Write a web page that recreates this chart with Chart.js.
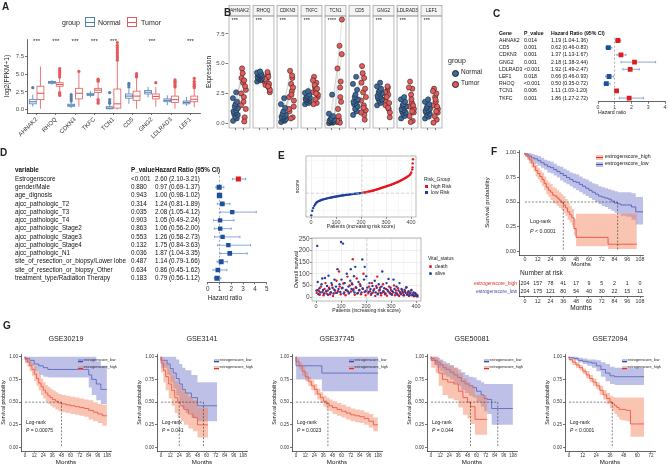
<!DOCTYPE html>
<html><head><meta charset="utf-8">
<script src="https://cdn.jsdelivr.net/npm/chart.js@4.4.1/dist/chart.umd.min.js"></script>
<style>
body{margin:0;background:#fff;}
#fig{position:relative;width:669px;height:467px;overflow:hidden;font-family:'Liberation Sans',Arial,sans-serif;color:#222;}
#fig canvas{position:absolute;}
.t{position:absolute;white-space:nowrap;line-height:1;}
.sw{position:absolute;}
</style></head><body><div id="fig"></div>
<script>
// ---------- A: expression boxplots ----------
const genes = ['AHNAK2','RHOQ','CDKN3','TKFC','TCN1','CD5','GNG2','LDLRAD3','LEF1'];
// [lower whisker, q1, median, q3, upper whisker]
const normalBox = [[0.4,0.8,1.1,1.4,2.1],[3.5,3.72,3.85,3.98,4.2],[0.2,0.45,0.6,0.75,1.1],[1.75,2.0,2.15,2.3,2.6],[0.0,0.1,0.2,0.4,0.8],[0.8,1.6,1.9,2.2,3.0],[1.7,2.2,2.45,2.7,3.2],[0.6,1.1,1.3,1.5,2.0],[0.5,0.8,1.0,1.2,1.8]];
const tumorBox = [[0.1,1.4,2.3,3.3,6.1],[2.6,3.3,3.55,3.8,4.5],[0.4,1.5,2.3,3.0,5.2],[1.6,2.4,2.75,3.0,3.8],[0.0,0.2,0.8,2.9,6.8],[0.1,1.3,1.9,2.6,4.4],[0.4,1.5,1.85,2.2,3.2],[0.1,1.0,1.4,1.9,3.1],[0.3,1.1,1.45,1.9,3.0]];
// [gene index, value]
const normalOutliers = [[0,3.1],[2,1.2],[2,1.5],[2,1.8],[2,2.1],[4,0.9],[4,1.1],[4,1.4],[4,2.4],[5,3.2],[5,3.5],[5,3.7]];
const tumorOutliers = [[1,2.0],[1,2.2],[1,2.4],[1,4.6],[1,4.9],[1,5.2],[1,5.5],[1,5.8],[2,5.4],[3,0.9],[3,1.2],[3,1.4],[3,4.0],[3,4.2],[3,4.3],[4,7.0],[4,7.3],[4,7.6],[4,7.9],[4,8.2],[4,8.5],[4,8.8],[4,9.1],[4,9.5],[5,4.6],[5,4.8],[5,5.1],[6,3.8],[7,3.2],[7,3.4],[7,3.6],[7,3.8],[7,4.0],[7,4.2],[8,3.1],[8,3.3],[8,3.5],[8,3.7],[8,4.0],[8,4.4]];
const boxStars = ['***','***','***','***','***','','***','','***'];

// ---------- B: paired samples ----------
const pairedNormal = [
  [0.2,0.4,0.55,0.7,0.8,0.9,1.0,1.1,1.25,1.4,1.6,1.8,2.1,2.6],
  [3.5,3.6,3.7,3.75,3.8,3.85,3.9,3.95,4.0,4.05,4.1,4.15,4.25,4.35],
  [0.1,0.2,0.3,0.35,0.4,0.5,0.55,0.6,0.7,0.8,1.0,1.3,1.6,2.1],
  [1.6,1.7,1.8,1.9,1.95,2.0,2.05,2.1,2.15,2.2,2.3,2.4,2.55,2.7],
  [0.0,0.05,0.1,0.12,0.15,0.2,0.22,0.25,0.3,0.35,0.45,0.6,0.8,2.4],
  [0.7,1.0,1.2,1.4,1.6,1.7,1.8,1.9,2.0,2.2,2.4,2.8,3.3,3.9],
  [1.5,1.7,1.9,2.0,2.1,2.2,2.3,2.4,2.5,2.6,2.75,2.9,3.1,3.4],
  [0.4,0.6,0.8,0.9,1.0,1.1,1.2,1.3,1.4,1.5,1.6,1.8,2.0,2.2],
  [0.4,0.55,0.7,0.8,0.9,1.0,1.05,1.1,1.2,1.3,1.45,1.6,1.8,2.0]];
const pairedTumor = [
  [2.5,0.5,3.4,1.2,4.6,2.2,3.8,0.15,2.8,4.2,1.8,3.1,1.5,3.6],
  [3.4,3.0,3.8,2.6,3.6,4.1,3.2,3.9,2.8,3.5,4.3,3.3,3.7,3.1],
  [2.2,0.5,3.3,1.4,4.4,2.7,1.0,3.8,1.9,0.4,2.4,3.0,1.2,4.0],
  [2.6,1.7,3.0,2.2,3.9,2.8,1.6,3.4,2.4,3.2,2.0,2.9,3.6,2.5],
  [0.1,3.5,0.3,5.8,1.2,0.05,4.6,2.2,8.7,0.6,6.5,1.8,0.2,3.0],
  [1.9,0.3,2.6,1.1,4.8,1.5,3.4,0.7,2.2,4.2,1.3,2.9,0.9,3.8],
  [2.0,1.2,2.7,0.5,1.8,3.0,1.5,2.4,0.9,2.2,3.1,1.7,2.6,1.3],
  [1.4,0.2,2.4,0.9,3.5,1.7,0.6,2.9,1.2,0.1,2.0,1.5,3.0,1.0],
  [1.5,0.3,2.2,0.9,2.9,1.8,0.05,2.5,1.2,0.6,2.0,1.4,2.7,1.0]];
const pairStars = ['***','***','***','***','****','','***','***','***'];

// ---------- C: univariate cox ----------
const uniGenes = ['AHNAK2','CD5','CDKN3','GNG2','LDLRAD3','LEF1','RHOQ','TCN1','TKFC'];
const uniP = ['0.014','0.001','0.001','0.001','<0.001','0.018','<0.001','0.006','0.001'];
const uniHR = [1.19,0.62,1.37,2.18,1.92,0.66,0.50,1.11,1.86];
const uniLo = [1.04,0.46,1.13,1.38,1.49,0.46,0.35,1.03,1.27];
const uniHi = [1.36,0.83,1.67,3.44,2.47,0.93,0.72,1.20,2.72];

// ---------- D: multivariate cox ----------
const multiVars = ['Estrogenscore','gender/Male','age_dignosis','ajcc_pathologic_T2','ajcc_pathologic_T3','ajcc_pathologic_T4','ajcc_pathologic_Stage2','ajcc_pathologic_Stage3','ajcc_pathologic_Stage4','ajcc_pathologic_N1','site_of_resection_or_biopsy/Lower lobe','site_of_resection_or_biopsy_Other','treatment_type/Radiation Therapy'];
const multiP = ['<0.001','0.880','0.943','0.314','0.035','0.903','0.863','0.553','0.132','0.036','0.487','0.634','0.183'];
const multiHR = [2.60,0.97,1.00,1.24,2.08,1.05,1.06,1.26,1.75,1.87,1.14,0.86,0.79];
const multiLo = [2.10,0.69,0.98,0.81,1.05,0.49,0.56,0.58,0.84,1.04,0.79,0.45,0.56];
const multiHi = [3.21,1.37,1.02,1.89,4.12,2.24,2.00,2.73,3.63,3.35,1.66,1.62,1.12];
const multiSize = [3.6,3.6,3.8,3.3,3.1,3.1,3.1,3.1,3.1,3.3,3.5,3.3,3.6];

// ---------- E: risk score and survival status ----------
const riskCut = 204, scoreCut = 1.1;
// risk score at patient ranks 1, 5, 9, ... 405
const riskScore = [-1.60,-1.05,-0.70,-0.45,-0.25,-0.08,0.02,0.10,0.16,0.21,0.26,0.30,0.34,0.37,0.40,0.43,0.46,0.49,0.52,0.55,0.57,0.60,0.62,0.64,0.67,0.69,0.71,0.73,0.75,0.77,0.79,0.81,0.83,0.85,0.86,0.88,0.90,0.92,0.93,0.95,0.97,0.98,1.00,1.01,1.03,1.04,1.06,1.07,1.08,1.10,1.11,1.13,1.15,1.17,1.19,1.21,1.24,1.27,1.30,1.33,1.36,1.39,1.42,1.45,1.49,1.52,1.56,1.60,1.64,1.68,1.72,1.76,1.80,1.84,1.88,1.92,1.96,2.00,2.04,2.08,2.12,2.17,2.22,2.27,2.32,2.37,2.42,2.48,2.54,2.60,2.66,2.72,2.79,2.86,2.93,3.00,3.08,3.16,3.25,3.38,3.60,3.95];
const riskTopRank = [406,407,408];
const riskTopScore = [4.2,4.7,5.2];
const deathRank = [3,8,12,15,20,26,30,34,38,42,47,52,56,60,64,68,72,78,82,88,92,95,99,104,109,113,118,122,126,131,135,140,143,147,150,155,159,163,168,172,176,180,186,190,194,199,203,208,212,216,220,224,229,233,237,241,245,248,252,256,260,264,268,272,276,280,284,288,292,296,300,304,308,312,316,320,324,328,332,336,340,344,348,352,356,360,364,368,372,376,380,384,388,392,396,400,403,406];
const deathTime = [18,30,25,10,45,22,8,35,60,15,28,40,12,20,52,5,33,18,70,25,110,45,12,38,58,20,8,30,88,15,50,24,60,163,35,10,42,80,18,28,55,12,38,100,22,8,30,16,45,25,10,60,20,35,5,48,88,15,28,40,8,18,55,22,12,35,6,25,45,15,30,10,20,50,8,28,15,38,5,22,12,30,18,8,25,40,10,20,5,15,28,8,12,3,18,6,10,2];
const aliveRank = [2,5,7,10,14,18,22,25,28,32,36,40,44,48,50,54,58,62,66,70,74,76,80,84,86,90,94,97,100,102,106,108,111,115,119,123,127,130,133,137,139,142,145,149,152,154,157,161,165,170,174,178,182,185,188,192,195,198,201,205,210,214,218,222,226,230,235,239,243,247,251,255,258,262,265,269,273,278,282,286,290,294,298,302,306,310,314,318,322,326,330,334,338,342,346,350,354,358,362,366,370,374,378,382,386,390,394,398,402,405];
const aliveTime = [28,220,65,12,38,20,55,80,30,15,82,25,48,10,92,35,20,60,40,15,75,28,45,18,120,35,55,22,237,75,40,230,15,60,30,100,25,45,18,70,120,35,55,28,90,20,130,40,15,65,30,48,20,162,35,75,130,25,90,40,22,60,35,15,48,28,70,20,40,12,55,30,18,45,110,25,38,15,60,30,78,20,40,12,25,75,35,18,45,10,28,60,15,35,22,8,30,18,42,12,25,8,18,30,10,20,6,14,4,8];

// ---------- F: TCGA survival ----------
const fHighT = [0,2,4,6,8,10,12,14,16,18,20,22,24,26,28,30,32,34,36,38,40,42,44,46,48,78,85,105];
const fHighS = [1,.98,.96,.93,.90,.86,.82,.79,.76,.73,.69,.65,.62,.60,.57,.56,.54,.52,.50,.47,.44,.40,.37,.34,.23,.14,.07,.07];
const fHighU = [1,1,.99,.97,.95,.91,.88,.85,.82,.80,.76,.72,.70,.68,.65,.64,.62,.60,.58,.56,.53,.49,.46,.43,.33,.38,.38,.38];
const fHighL = [1,.96,.93,.89,.85,.81,.76,.73,.70,.66,.62,.58,.55,.52,.49,.48,.46,.44,.42,.39,.36,.32,.29,.26,.16,.05,.02,.02];
const fLowT = [0,3,6,9,12,15,18,21,24,27,30,33,36,39,42,45,48,51,54,57,60,63,66,69,72,75,78,81,84,87,90,95,100,104,106,111];
const fLowS = [1,.99,.97,.95,.94,.92,.90,.88,.86,.85,.83,.81,.79,.77,.75,.73,.71,.70,.68,.66,.64,.62,.60,.58,.56,.55,.54,.53,.51,.49,.48,.47,.47,.45,.40,.40];
const fLowU = [1,1,1,.99,.98,.97,.95,.93,.92,.91,.89,.87,.86,.84,.82,.80,.79,.78,.76,.74,.73,.71,.69,.68,.66,.65,.64,.63,.62,.61,.60,.60,.60,.59,.55,.55];
const fLowL = [1,.97,.94,.91,.89,.87,.85,.83,.80,.79,.77,.75,.72,.70,.68,.66,.64,.62,.60,.58,.56,.54,.52,.50,.48,.46,.45,.43,.41,.39,.38,.36,.35,.32,.27,.27];
const fMedian = [36, 87];
const riskTimes = [0,12,24,36,48,60,72,84,96,108];
const atRiskHigh = [204,157,78,41,17,9,5,2,1,0];
const atRiskLow = [204,175,121,80,54,40,30,22,15,11];

// ---------- G: validation cohorts ----------
const gStudies = ['GSE30219','GSE3141','GSE37745','GSE50081','GSE72094'];
const gP = ['<i>P</i> = 0.00075','<i>P</i> = 0.041','<i>P</i> = 0.0023','<i>P</i> = 0.044','<i>P</i> &lt; 0.0001'];
const gXMax = [108,108,108,108,72];
const gMedian = [[48],[24,56],[42],[52,88],[38]];
const g1LowT = [0,6,12,18,24,30,36,84,88,94,100,104,108];
const g1LowS = [1,.98,.96,.92,.90,.88,.86,.86,.80,.75,.70,.64,.64];
const g1LowU = [1,1,1,1,1,1,1,1,1,1,.95,.90,.90];
const g1LowL = [1,.94,.90,.84,.80,.78,.77,.77,.66,.58,.52,.48,.48];
const g1HighT = [0,3,6,9,12,15,18,21,24,27,30,33,36,40,44,48,54,60,66,72,78,84,90,96,102,108];
const g1HighS = [1,.97,.94,.90,.86,.81,.76,.71,.67,.63,.60,.57,.55,.53,.51,.49,.48,.47,.46,.45,.44,.43,.41,.39,.37,.35];
const g1HighU = [1,1,.99,.96,.93,.89,.84,.80,.76,.72,.69,.67,.65,.63,.61,.59,.58,.57,.56,.55,.54,.53,.52,.50,.48,.47];
const g1HighL = [1,.93,.89,.84,.79,.73,.68,.63,.58,.54,.51,.48,.46,.44,.42,.40,.39,.38,.37,.36,.35,.34,.31,.29,.27,.24];
const g2LowT = [0,8,12,16,20,24,28,32,40,48,56,74];
const g2LowS = [1,.96,.92,.87,.82,.76,.70,.64,.60,.55,.46,.46];
const g2LowU = [1,1,1,1,1,.97,.92,.88,.85,.80,.72,.72];
const g2LowL = [1,.88,.80,.72,.65,.57,.50,.43,.38,.33,.29,.29];
const g2HighT = [0,3,6,10,14,18,22,26,30,36,42,48,56,62];
const g2HighS = [1,.93,.85,.78,.70,.63,.55,.50,.46,.42,.37,.33,.25,.25];
const g2HighU = [1,1,.97,.92,.86,.80,.73,.69,.65,.61,.56,.52,.44,.44];
const g2HighL = [1,.83,.72,.63,.54,.46,.38,.33,.29,.25,.21,.18,.11,.11];
const g3LowT = [0,34,48,108];
const g3LowS = [1,.90,.82,.82];
const g3LowU = [1,1,1,1];
const g3LowL = [1,.75,.62,.62];
const g3HighT = [0,4,8,12,16,20,24,28,32,36,40,44,48,54,60,66,72,78,84,90,96,102,108];
const g3HighS = [1,.95,.90,.84,.78,.73,.68,.64,.59,.55,.51,.48,.46,.44,.42,.40,.38,.36,.35,.34,.32,.29,.25];
const g3HighU = [1,.98,.94,.89,.83,.78,.74,.70,.65,.61,.57,.55,.53,.51,.49,.47,.45,.43,.42,.41,.39,.37,.33];
const g3HighL = [1,.92,.86,.79,.73,.68,.63,.58,.53,.49,.45,.42,.40,.37,.35,.33,.31,.29,.28,.27,.25,.22,.18];
const g4LowT = [0,4,8,12,16,20,25,30,35,40,45,50,55,60,66,70,74,80,88,108];
const g4LowS = [1,.98,.96,.94,.91,.88,.86,.83,.80,.77,.73,.70,.68,.66,.62,.58,.54,.53,.43,.43];
const g4LowU = [1,1,1,.99,.97,.95,.93,.91,.88,.86,.83,.80,.78,.77,.74,.72,.70,.70,.70,.70];
const g4LowL = [1,.95,.91,.88,.84,.80,.78,.75,.71,.68,.63,.60,.57,.55,.50,.45,.40,.37,.25,.25];
const g4HighT = [0,6,10,15,22,30,36,42,48,52,58,64,74];
const g4HighS = [1,.96,.92,.82,.75,.72,.70,.62,.55,.50,.45,.31,.31];
const g4HighU = [1,1,1,.96,.92,.90,.88,.82,.76,.72,.68,.58,.58];
const g4HighL = [1,.88,.82,.68,.58,.54,.52,.44,.36,.32,.26,.14,.14];
const g5LowT = [0,4,8,12,16,20,24,28,32,36,40,44,66];
const g5LowS = [1,.99,.98,.96,.95,.94,.93,.90,.86,.82,.79,.78,.78];
const g5LowU = [1,1,1,.99,.98,.97,.97,.96,.94,.92,.89,.88,.88];
const g5LowL = [1,.98,.96,.94,.92,.90,.88,.84,.78,.73,.70,.69,.69];
const g5HighT = [0,3,6,9,12,15,18,21,24,27,30,33,36,38,40,42,44,46,50,54,56,66];
const g5HighS = [1,.97,.94,.91,.88,.84,.80,.76,.72,.68,.63,.58,.54,.50,.48,.46,.44,.42,.42,.41,.26,.26];
const g5HighU = [1,.99,.97,.94,.91,.87,.84,.80,.76,.72,.68,.63,.60,.57,.56,.55,.55,.55,.55,.55,.55,.55];
const g5HighL = [1,.95,.91,.88,.85,.81,.76,.72,.68,.64,.58,.53,.48,.43,.40,.37,.34,.31,.30,.29,.12,.12];

// ---------- styles ----------
const FONT = "'Liberation Sans', Arial, sans-serif";
const colNormal = '#4f7fb3', colTumor = '#e5575a';
const ptNormal = '#3c6a9c', ptTumor = '#e35b5b';
const kmRed = '#e8262d', kmBlue = '#3a4fa3';
const bandRed = 'rgba(243,125,85,0.45)', bandBlue = 'rgba(110,115,205,0.45)';
const hrRed = '#e41a1c', hrBlue = '#1c4f9c', ciCol = '#6f8fd0';
const dotRed = '#e8141c', dotBlue = '#1f3f9f';
const jit = [-0.3,0.15,-0.05,0.28,-0.18,0.05,-0.25,0.1,0.3,-0.1,0.0,0.2,-0.32,0.08];

Chart.defaults.font.family = FONT;
Chart.defaults.color = '#333';
Chart.defaults.animation = false;
Chart.defaults.responsive = false;
Chart.defaults.devicePixelRatio = 1;
Chart.defaults.plugins.legend.display = false;
Chart.defaults.plugins.tooltip.enabled = false;
Chart.defaults.scale.ticks.maxRotation = 0;

const fig = document.getElementById('fig');
function mk(x, y, w, h) {
  const c = document.createElement('canvas');
  c.width = w; c.height = h;
  c.style.left = x + 'px'; c.style.top = y + 'px';
  c.style.width = w + 'px'; c.style.height = h + 'px';
  fig.appendChild(c);
  return c;
}
function txt(x, y, s, size, o = {}) {
  const d = document.createElement('div');
  d.className = 't';
  d.innerHTML = s;
  d.style.fontSize = size + 'px';
  d.style.top = (y - size / 2) + 'px';
  if (o.align === 'center') { d.style.left = x + 'px'; d.style.transform = 'translateX(-50%)'; }
  else d.style.left = x + 'px';
  if (o.bold) d.style.fontWeight = 'bold';
  if (o.color) d.style.color = o.color;
  fig.appendChild(d);
  return d;
}
function sw(x, y, w, h, css) {
  const d = document.createElement('div');
  d.className = 'sw';
  d.style.cssText = `left:${x}px;top:${y}px;width:${w}px;height:${h}px;` + css;
  fig.appendChild(d);
  return d;
}
const fixW = w => s => { s.width = w; s.paddingTop = 0; s.paddingBottom = 0; };
const fixH = h => s => { s.height = h; s.paddingLeft = 0; s.paddingRight = 0; };
const setTicks = vals => s => { s.ticks = vals.map(v => ({ value: v })); };
const axGrid = { drawOnChartArea: false, tickLength: 2, color: '#333', lineWidth: 0.7 };
const axBorder = { color: '#222', width: 0.7 };

// ---------- A ----------
const boxPlugin = {
  id: 'boxes',
  beforeDatasetsDraw(chart) {
    const { ctx, scales: { x, y } } = chart;
    const hw = x.getPixelForValue(0.18) - x.getPixelForValue(0);
    const draw = (stats, off, col) => stats.forEach((s, i) => {
      const cx = x.getPixelForValue(i + off);
      const [lo, q1, md, q3, hi] = s.map(v => y.getPixelForValue(v));
      ctx.save();
      ctx.strokeStyle = col; ctx.lineWidth = 0.8; ctx.fillStyle = '#fff';
      ctx.beginPath(); ctx.moveTo(cx, lo); ctx.lineTo(cx, q1); ctx.moveTo(cx, q3); ctx.lineTo(cx, hi); ctx.stroke();
      ctx.fillRect(cx - hw, q3, 2 * hw, q1 - q3);
      ctx.strokeRect(cx - hw, q3, 2 * hw, q1 - q3);
      ctx.lineWidth = 1.1;
      ctx.beginPath(); ctx.moveTo(cx - hw, md); ctx.lineTo(cx + hw, md); ctx.stroke();
      ctx.restore();
    });
    draw(normalBox, -0.2, colNormal);
    draw(tumorBox, 0.2, colTumor);
  },
  afterDatasetsDraw(chart) {
    const { ctx, scales: { x, y } } = chart;
    ctx.save();
    ctx.fillStyle = '#222'; ctx.font = '6px ' + FONT; ctx.textAlign = 'center'; ctx.textBaseline = 'middle';
    boxStars.forEach((s, i) => ctx.fillText(s, x.getPixelForValue(i), y.getPixelForValue(9.7)));
    ctx.restore();
  }
};
new Chart(mk(0, 0, 206, 146), {
  type: 'scatter',
  data: { datasets: [
    { data: normalOutliers.map(p => ({ x: p[0] - 0.2, y: p[1] })), backgroundColor: colNormal, pointRadius: 1.6, borderWidth: 0 },
    { data: tumorOutliers.map(p => ({ x: p[0] + 0.2, y: p[1] })), backgroundColor: colTumor, pointRadius: 1.6, borderWidth: 0 }
  ] },
  options: {
    layout: { padding: { left: 0, right: 6, top: 39, bottom: 0 } },
    scales: {
      x: { type: 'linear', min: -0.5, max: 8.5, afterBuildTicks: setTicks(genes.map((g, i) => i)), afterFit: fixH(33),
        ticks: { autoSkip: false, maxRotation: 45, minRotation: 45, font: { size: 6 }, color: '#333', padding: 1, callback: v => genes[v] },
        grid: axGrid, border: axBorder },
      y: { min: -0.5, max: 10, afterBuildTicks: setTicks([0, 2.5, 5, 7.5]), afterFit: fixW(27),
        ticks: { font: { size: 6 }, color: '#4d4d4d', padding: 1, callback: v => v.toFixed(1) },
        grid: axGrid, border: axBorder,
        title: { display: true, text: 'log2(FPKM+1)', font: { size: 6.5 }, color: '#222', padding: { top: 3, bottom: 0 } } }
    }
  },
  plugins: [boxPlugin]
});
txt(62, 22, 'group', 7);
[[85, colNormal, 'Normal', 98], [127, colTumor, 'Tumor', 141]].forEach(([x, c, s, tx]) => {
  sw(x, 17, 10, 10, `box-sizing:border-box;border:0.8px solid ${c};`);
  sw(x, 21.6, 10, 0.9, `background:${c};`);
  txt(tx, 22, s, 7);
});

// ---------- B ----------
const facetPlugin = {
  id: 'facets',
  beforeDatasetsDraw(chart) {
    const { ctx, chartArea: a, scales: { x } } = chart;
    ctx.save();
    genes.forEach((g, k) => {
      const x0 = x.getPixelForValue(3 * k + 0.19), x1 = x.getPixelForValue(3 * k + 2.81);
      ctx.fillStyle = '#f4f4f4'; ctx.strokeStyle = '#8c8c8c'; ctx.lineWidth = 0.6;
      ctx.fillRect(x0, a.top - 10.5, x1 - x0, 10.5);
      ctx.strokeRect(x0, a.top - 10.5, x1 - x0, 10.5);
      ctx.strokeRect(x0, a.top, x1 - x0, a.bottom - a.top);
      ctx.fillStyle = '#1a1a1a'; ctx.font = '4.6px ' + FONT; ctx.textAlign = 'center'; ctx.textBaseline = 'middle';
      ctx.fillText(g, (x0 + x1) / 2, a.top - 5.2);
    });
    const mN = chart.getDatasetMeta(0).data, mT = chart.getDatasetMeta(1).data;
    ctx.strokeStyle = '#c4c4c4'; ctx.lineWidth = 0.5;
    ctx.beginPath();
    mN.forEach((p, i) => { ctx.moveTo(p.x, p.y); ctx.lineTo(mT[i].x, mT[i].y); });
    ctx.stroke();
    ctx.restore();
  },
  afterDatasetsDraw(chart) {
    const { ctx, scales: { x, y } } = chart;
    ctx.save();
    ctx.fillStyle = '#222'; ctx.font = '5.5px ' + FONT; ctx.textAlign = 'left'; ctx.textBaseline = 'middle';
    pairStars.forEach((s, k) => ctx.fillText(s, x.getPixelForValue(3 * k + 0.5), y.getPixelForValue(8.6)));
    ctx.restore();
  }
};
const bNormalPts = [], bTumorPts = [];
genes.forEach((g, k) => pairedNormal[k].forEach((v, i) => {
  bNormalPts.push({ x: 3 * k + 1 + jit[i], y: v });
  bTumorPts.push({ x: 3 * k + 2 + jit[i], y: pairedTumor[k][i] });
}));
new Chart(mk(203, 0, 247, 136), {
  type: 'scatter',
  data: { datasets: [
    { data: bNormalPts, backgroundColor: ptNormal, borderColor: '#1b1b1b', borderWidth: 0.5, pointRadius: 2.6 },
    { data: bTumorPts, backgroundColor: ptTumor, borderColor: '#1b1b1b', borderWidth: 0.5, pointRadius: 2.6 }
  ] },
  options: {
    layout: { padding: { left: 0, right: 6.5, top: 16, bottom: 0 } },
    scales: {
      x: { type: 'linear', min: 0, max: 27, afterFit: fixH(8),
        afterBuildTicks: setTicks(genes.flatMap((g, k) => [3 * k + 1, 3 * k + 2])),
        ticks: { autoSkip: false, callback: () => '' , font: { size: 4 } },
        grid: axGrid, border: { display: false } },
      y: { min: -0.4, max: 9.0, afterBuildTicks: setTicks([0, 2.5, 5, 7.5]), afterFit: fixW(24.5),
        ticks: { font: { size: 6 }, color: '#4d4d4d', padding: 1, callback: v => v.toFixed(1) },
        grid: axGrid, border: { display: false },
        title: { display: true, text: 'Expression', font: { size: 6.5 }, color: '#222', padding: { top: 2, bottom: 0 } } }
    }
  },
  plugins: [facetPlugin]
});
txt(448, 60, 'group', 7);
sw(451.5, 69.5, 5, 5, `border-radius:50%;background:${ptNormal};border:0.5px solid #222;`);
txt(461, 72, 'Normal', 6.5);
sw(451.5, 80.5, 5, 5, `border-radius:50%;background:${ptTumor};border:0.5px solid #222;`);
txt(461, 83, 'Tumor', 6.5);

// ---------- C and D forest plots ----------
const ciPlugin = {
  id: 'ci',
  beforeDatasetsDraw(chart, args, o) {
    const { ctx, chartArea: a, scales: { x, yVar } } = chart;
    ctx.save();
    ctx.strokeStyle = '#777'; ctx.lineWidth = 0.6; ctx.setLineDash([2, 2]);
    ctx.beginPath();
    ctx.moveTo(x.getPixelForValue(1), yVar.getPixelForValue(0.6));
    ctx.lineTo(x.getPixelForValue(1), a.bottom); ctx.stroke();
    ctx.setLineDash([]);
    ctx.strokeStyle = ciCol; ctx.lineWidth = 0.8;
    o.lo.forEach((lo, i) => {
      const yy = yVar.getPixelForValue(i + 1);
      const x0 = x.getPixelForValue(lo), x1 = x.getPixelForValue(o.hi[i]);
      ctx.beginPath();
      ctx.moveTo(x0, yy); ctx.lineTo(x1, yy);
      ctx.moveTo(x0, yy - 1.2); ctx.lineTo(x0, yy + 1.2);
      ctx.moveTo(x1, yy - 1.2); ctx.lineTo(x1, yy + 1.2);
      ctx.stroke();
    });
    ctx.restore();
  }
};
function forest(cv, o) {
  const hrText = o.hr.map((v, i) => `${v.toFixed(2)} (${o.lo[i].toFixed(2)}-${o.hi[i].toFixed(2)})`);
  // the innermost column is mirrored so its header may run over the plot, as in the original
  const catAxis = (labels, w, weight, mirror) => ({
    type: 'category', position: 'left', weight, labels, offset: true, afterFit: fixW(w),
    ticks: { autoSkip: false, crossAlign: mirror ? 'near' : 'far', mirror: !!mirror, padding: mirror ? -w : 0, color: '#111',
      font: c => ({ size: o.fs, weight: c.index === 0 ? 'bold' : 'normal' }) },
    grid: { display: false, drawTicks: false, tickLength: 0 }, border: { display: false }
  });
  return new Chart(cv, {
    type: 'scatter',
    data: { datasets: [{ yAxisID: 'yVar', data: o.hr.map((v, i) => ({ x: v, y: o.rows[i] })), pointStyle: 'rect',
      pointRadius: o.size, backgroundColor: o.colors, borderWidth: 0 }] },
    options: {
      layout: { padding: o.pad },
      plugins: { ci: { lo: o.lo, hi: o.hi } },
      scales: {
        x: { min: 0, max: o.xmax, afterBuildTicks: setTicks(o.xt), afterFit: fixH(o.xh),
          ticks: { font: { size: o.fs }, color: '#333', padding: 1 }, grid: axGrid, border: axBorder,
          title: { display: true, align: 'start', text: 'Hazard ratio', font: { size: o.fs }, color: '#222', padding: { top: 0, bottom: o.tpb } } },
        yVar: catAxis([o.head[0], ...o.rows], o.w[0], 3),
        yP: catAxis([o.head[1], ...o.p], o.w[1], 2),
        yHR: catAxis([o.head[2], ...hrText], o.w[2], 1, true)
      }
    },
    plugins: [ciPlugin]
  });
}
forest(mk(490, 24, 179, 95), {
  rows: uniGenes, p: uniP, hr: uniHR, lo: uniLo, hi: uniHi, size: 3.4,
  colors: uniHR.map(v => v > 1 ? hrRed : hrBlue),
  head: ['Gene', 'P_value', 'Hazard Ratio (95% CI)'], w: [25, 27, 47], fs: 5.2,
  pad: { left: 9, right: 3, top: 5.7, bottom: 0 }, xmax: 4, xt: [0, 1, 2, 3, 4], xh: 17.3, tpb: 3
});
forest(mk(0, 150, 275, 155), {
  rows: multiVars, p: multiP, hr: multiHR, lo: multiLo, hi: multiHi, size: multiSize,
  colors: multiVars.map((v, i) => i === 0 ? hrRed : hrBlue),
  head: ['variable', 'P_value', 'Hazard Ratio (95% CI)'], w: [116, 24, 52.7], fs: 6.3,
  pad: { left: 15, right: 8.3, top: 16.6, bottom: 0 }, xmax: 5, xt: [0, 1, 2, 3, 4, 5], xh: 22.6, tpb: 3.2
});

// ---------- E ----------
const framePlugin = {
  id: 'frame',
  afterDraw(chart) {
    const { ctx, chartArea: a } = chart;
    ctx.save(); ctx.strokeStyle = '#9a9a9a'; ctx.lineWidth = 0.7;
    ctx.strokeRect(a.left, a.top, a.right - a.left, a.bottom - a.top);
    ctx.restore();
  }
};
const gridCol = step => c => (c.tick && Math.abs(c.tick.value % step) < 1e-9) ? '#e6e6e6' : '#f3f3f3';
const tickCol = step => c => (c.tick && Math.abs(c.tick.value % step) < 1e-9) ? '#444' : 'rgba(0,0,0,0)';
const riskPts = riskScore.map((v, i) => ({ x: 1 + 4 * i, y: v })).concat(riskTopRank.map((r, i) => ({ x: r, y: riskTopScore[i] })));
new Chart(mk(283, 150, 185, 85), {
  type: 'scatter',
  data: { datasets: [
    { type: 'line', data: [{ x: riskCut, y: -1.8 }, { x: riskCut, y: 5.6 }], borderColor: '#cfcfcf', borderWidth: 0.8, borderDash: [3, 2], pointRadius: 0 },
    { type: 'line', data: [{ x: -20, y: scoreCut }, { x: 420, y: scoreCut }], borderColor: '#cfcfcf', borderWidth: 0.8, borderDash: [3, 2], pointRadius: 0 },
    { data: riskPts.filter(p => p.x <= riskCut), backgroundColor: dotBlue, pointRadius: 1.2, borderWidth: 0 },
    { data: riskPts.filter(p => p.x > riskCut), backgroundColor: dotRed, pointRadius: 1.2, borderWidth: 0 }
  ] },
  options: {
    layout: { padding: { left: 10, right: 52, top: 6, bottom: 0 } },
    scales: {
      x: { type: 'linear', min: -20, max: 420, afterBuildTicks: setTicks([0, 50, 100, 150, 200, 250, 300, 350, 400]), afterFit: fixH(18),
        ticks: { autoSkip: false, font: { size: 5.5 }, color: '#444', padding: 0.5, callback: v => v % 100 === 0 ? v : '' },
        grid: { color: gridCol(100), tickColor: tickCol(100), tickLength: 2, lineWidth: 0.6 }, border: { display: false },
        title: { display: true, text: 'Patients (increasing risk score)', font: { size: 5 }, color: '#222', padding: { top: 0, bottom: 5 } } },
      y: { min: -1.8, max: 5.6, afterBuildTicks: setTicks([-1, 0, 1, 2, 3, 4, 5]), afterFit: fixW(13),
        ticks: { font: { size: 6 }, color: '#444', padding: 0.5, callback: v => v % 2 === 0 ? v : '' },
        grid: { color: gridCol(2), tickColor: tickCol(2), tickLength: 2, lineWidth: 0.6 }, border: { display: false },
        title: { display: true, text: 'score', font: { size: 5.5 }, color: '#222', padding: { top: 1, bottom: 0 } } }
    }
  },
  plugins: [framePlugin]
});
txt(424, 179, 'Risk_Group', 5);
sw(425, 184.5, 3, 3, `background:${dotRed};`); txt(431, 186, 'high Risk', 5);
sw(425, 190.5, 3, 3, `background:${dotBlue};`); txt(431, 192, 'low Risk', 5);

new Chart(mk(283, 232, 185, 85), {
  type: 'scatter',
  data: { datasets: [
    { type: 'line', data: [{ x: riskCut, y: -17 }, { x: riskCut, y: 254 }], borderColor: '#cfcfcf', borderWidth: 0.8, borderDash: [3, 2], pointRadius: 0 },
    { data: aliveRank.map((r, i) => ({ x: r, y: aliveTime[i] })), backgroundColor: dotBlue, pointRadius: 1.2, borderWidth: 0 },
    { data: deathRank.map((r, i) => ({ x: r, y: deathTime[i] })), backgroundColor: dotRed, pointRadius: 1.2, borderWidth: 0 }
  ] },
  options: {
    layout: { padding: { left: 8, right: 47, top: 6, bottom: 0 } },
    scales: {
      x: { type: 'linear', min: -16, max: 420, afterBuildTicks: setTicks([0, 50, 100, 150, 200, 250, 300, 350, 400]), afterFit: fixH(16),
        ticks: { autoSkip: false, font: { size: 5.5 }, color: '#444', padding: 0.5, callback: v => v % 100 === 0 ? v : '' },
        grid: { color: gridCol(100), tickColor: tickCol(100), tickLength: 2, lineWidth: 0.6 }, border: { display: false },
        title: { display: true, text: 'Patients (increasing risk score)', font: { size: 5 }, color: '#222', padding: { top: 0, bottom: 3 } } },
      y: { min: -17, max: 254, afterBuildTicks: setTicks([0, 25, 50, 75, 100, 125, 150, 175, 200, 225, 250]), afterFit: fixW(21),
        ticks: { font: { size: 6.5 }, color: '#444', padding: 0.5, callback: v => v % 50 === 0 ? v : '' },
        grid: { color: gridCol(50), tickColor: tickCol(50), tickLength: 2, lineWidth: 0.6 }, border: { display: false },
        title: { display: true, text: 'Overall survival', font: { size: 5.5 }, color: '#222', padding: { top: 2, bottom: 0 } } }
    }
  },
  plugins: [framePlugin]
});
txt(428, 258, 'Vital_status', 5);
sw(429, 264.5, 3, 3, `background:${dotRed};border-radius:50%;`); txt(435, 266, 'death', 5);
sw(429, 271.5, 3, 3, `background:${dotBlue};border-radius:50%;`); txt(435, 273, 'alive', 5);

// ---------- KM helper ----------
const kmLines = {
  id: 'kmLines',
  afterDatasetsDraw(chart, args, o) {
    const { ctx, scales: { x, y } } = chart;
    const yh = y.getPixelForValue(0.5), y0 = y.getPixelForValue(0);
    ctx.save(); ctx.setLineDash([2, 1.5]); ctx.strokeStyle = '#333'; ctx.lineWidth = 0.6;
    ctx.beginPath();
    ctx.moveTo(x.getPixelForValue(0), yh); ctx.lineTo(x.getPixelForValue(Math.max(...o.med)), yh);
    o.med.forEach(m => { ctx.moveTo(x.getPixelForValue(m), yh); ctx.lineTo(x.getPixelForValue(m), y0); });
    ctx.stroke(); ctx.restore();
  }
};
function kmChart(cv, o) {
  const pts = (t, v) => t.map((tt, i) => ({ x: tt, y: v[i] }));
  const clear = 'rgba(0,0,0,0)';
  const ds = [];
  o.curves.forEach(c => {
    ds.push({ data: pts(c.t, c.u), borderColor: clear, borderWidth: 1, pointRadius: 0, stepped: 'after', fill: false });
    ds.push({ data: pts(c.t, c.l), borderColor: clear, borderWidth: 1, pointRadius: 0, stepped: 'after', fill: '-1', backgroundColor: c.band });
  });
  o.curves.forEach(c => ds.push({ data: pts(c.t, c.s), borderColor: c.col, borderWidth: o.lw, pointRadius: 0, stepped: 'after', fill: false }));
  const xt = [];
  for (let v = 0; v <= o.xmaxTick; v += 12) xt.push(v);
  return new Chart(cv, {
    type: 'line',
    data: { datasets: ds },
    options: {
      layout: { padding: o.pad },
      plugins: { kmLines: { med: o.med } },
      scales: {
        x: { type: 'linear', min: o.xmin, max: o.xmax, afterBuildTicks: setTicks(xt), afterFit: fixH(o.xh),
          ticks: { autoSkip: false, font: { size: o.fs }, color: '#333', padding: 0 }, grid: { ...axGrid, tickLength: 1.5 }, border: axBorder,
          title: { display: true, text: 'Months', font: { size: o.ts }, color: '#111', padding: { top: 0, bottom: o.tpb } } },
        y: { min: -0.04, max: 1.03, afterBuildTicks: setTicks([0, 0.25, 0.5, 0.75, 1]), afterFit: fixW(o.yw),
          ticks: { font: { size: o.fs }, color: '#333', padding: 1, callback: v => v.toFixed(2) }, grid: axGrid, border: axBorder,
          title: { display: true, text: 'Survival probability', font: { size: o.ys }, color: '#111', padding: { top: o.ypt, bottom: 0 } } }
      }
    },
    plugins: [kmLines]
  });
}

// ---------- F ----------
kmChart(mk(480, 143, 189, 127), {
  curves: [
    { t: fHighT, s: fHighS, u: fHighU, l: fHighL, col: kmRed, band: bandRed },
    { t: fLowT, s: fLowS, u: fLowU, l: fLowL, col: kmBlue, band: bandBlue }
  ],
  med: fMedian, xmin: -5.6, xmax: 110.8, xmaxTick: 108, lw: 0.9,
  pad: { left: 4, right: 26, top: 7, bottom: 0 }, xh: 15, yw: 35, fs: 5.3, ts: 6, tpb: 2.2, ys: 6, ypt: 0
});
sw(596, 154.5, 7, 5, `background:${bandRed};`); sw(596, 156.6, 7, 0.8, `background:${kmRed};`);
txt(605, 157, 'estrogenscore_high', 5.2);
sw(596, 161.5, 7, 5, `background:${bandBlue};`); sw(596, 163.6, 7, 0.8, `background:${kmBlue};`);
txt(605, 164, 'estrogenscore_low', 5.2);
txt(530, 222, 'Log-rank', 5.3);
txt(530, 232, '<i>P</i> &lt; 0.0001', 5.3);

// F risk table
const riskTable = {
  id: 'riskTable',
  afterDraw(chart) {
    const { ctx, scales: { x, y } } = chart;
    ctx.save(); ctx.fillStyle = '#222'; ctx.font = '5.3px ' + FONT; ctx.textAlign = 'center'; ctx.textBaseline = 'middle';
    [atRiskHigh, atRiskLow].forEach((row, r) => row.forEach((n, j) => ctx.fillText(n, x.getPixelForValue(riskTimes[j]), y.getPixelForValue(r))));
    ctx.restore();
  }
};
new Chart(mk(460, 266, 209, 48), {
  type: 'scatter',
  data: { datasets: [] },
  options: {
    layout: { padding: { left: 0, right: 26, top: 14, bottom: 0 } },
    scales: {
      x: { type: 'linear', min: -5.6, max: 110.8, afterBuildTicks: setTicks(riskTimes), afterFit: fixH(18),
        ticks: { autoSkip: false, font: { size: 5.3 }, color: '#333', padding: 0.5 }, grid: axGrid, border: axBorder,
        title: { display: true, text: 'Months', font: { size: 6.5 }, color: '#111', padding: { top: 0, bottom: 1.5 } } },
      y: { type: 'category', labels: ['estrogenscore_high', 'estrogenscore_low'], offset: true, afterFit: fixW(59),
        ticks: { autoSkip: false, font: { size: 4.9 }, padding: 2, color: c => c.index === 0 ? kmRed : kmBlue },
        grid: { drawOnChartArea: false, tickLength: 0, color: '#333' }, border: axBorder }
    }
  },
  plugins: [riskTable]
});
txt(520, 273, 'Number at risk', 6.6);

// ---------- G ----------
const gLeft = [21, 157, 292, 427, 565];
const gCurves = [
  [[g1LowT, g1LowS, g1LowU, g1LowL], [g1HighT, g1HighS, g1HighU, g1HighL]],
  [[g2LowT, g2LowS, g2LowU, g2LowL], [g2HighT, g2HighS, g2HighU, g2HighL]],
  [[g3LowT, g3LowS, g3LowU, g3LowL], [g3HighT, g3HighS, g3HighU, g3HighL]],
  [[g4LowT, g4LowS, g4LowU, g4LowL], [g4HighT, g4HighS, g4HighU, g4HighL]],
  [[g5LowT, g5LowS, g5LowU, g5LowL], [g5HighT, g5HighS, g5HighU, g5HighL]]
];
gStudies.forEach((name, k) => {
  const L = gLeft[k], R = gXMax[k];
  const [lo, hi] = gCurves[k];
  kmChart(mk(L - 21, 330, 116, 137), {
    curves: [
      { t: hi[0], s: hi[1], u: hi[2], l: hi[3], col: kmRed, band: bandRed },
      { t: lo[0], s: lo[1], u: lo[2], l: lo[3], col: kmBlue, band: bandBlue }
    ],
    med: gMedian[k], xmin: -0.05 * R, xmax: 1.05 * R, xmaxTick: R, lw: 0.8,
    pad: { left: 0, right: 5, top: 24, bottom: 0 }, xh: 15.8, yw: 21, fs: 4.5, ts: 6.2, tpb: 1, ys: 5.3, ypt: 0
  });
  txt(L + 45, 339, name, 7.2, { align: 'center' });
  sw(L + 57, 359, 4.5, 4, `background:${bandBlue};`); sw(L + 57, 360.6, 4.5, 0.7, `background:${kmBlue};`);
  txt(L + 62.5, 361, 'estrogenscore_low', 3.8);
  sw(L + 57, 366, 4.5, 4, `background:${bandRed};`); sw(L + 57, 367.6, 4.5, 0.7, `background:${kmRed};`);
  txt(L + 62.5, 368, 'estrogenscore_high', 3.8);
  txt(L + 5, 422, 'Log-rank', 5);
  txt(L + 5, 430, gP[k], 5);
});

// ---------- panel letters ----------
[['A', 2, 7], ['B', 224, 13], ['C', 493, 14], ['D', 0, 153], ['E', 278, 156], ['F', 491, 152], ['G', 3, 326]].forEach(([s, x, y]) => txt(x, y, s, 10, { bold: true }));
</script></body></html>
